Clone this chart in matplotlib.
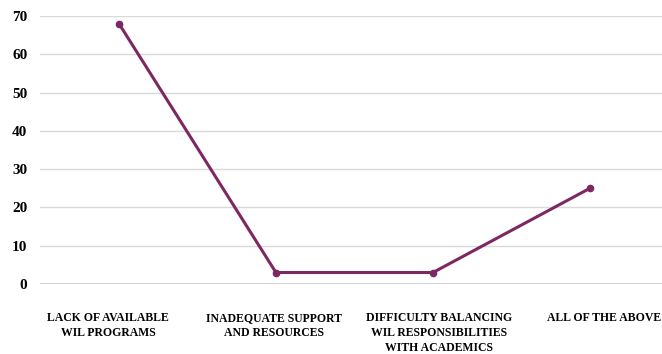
import matplotlib.pyplot as plt
import matplotlib.transforms as mtransforms
from matplotlib import rcParams

rcParams['font.family'] = 'serif'
rcParams['font.serif'] = ['Liberation Serif']
rcParams['font.weight'] = 'bold'

categories = ['LACK OF AVAILABLE\nWIL PROGRAMS',
              'INADEQUATE SUPPORT\nAND RESOURCES',
              'DIFFICULTY BALANCING\nWIL RESPONSIBILITIES\nWITH ACADEMICS',
              'ALL OF THE ABOVE']
values = [68, 3, 3, 25]
yticks = [0, 10, 20, 30, 40, 50, 60, 70]

fig = plt.figure(figsize=(6.62, 3.54), dpi=100)
ax = fig.add_axes([40 / 662, (354 - 284) / 354, 622 / 662, 268 / 354])

x = list(range(len(categories)))
ax.plot(x, values, color='#7d2862', linewidth=2.2, marker='o', markersize=4.5,
        clip_on=False, zorder=3)

ax.set_xlim(-0.503, 3.459)
ax.set_ylim(0, 70)
ax.set_yticks(yticks)
ax.set_yticklabels([str(t) for t in yticks], fontsize=11, fontweight='bold')
ax.set_xticks(x)
ax.set_xticklabels(categories, fontsize=8.5, fontweight='bold', linespacing=1.35,
                   va='top')
ax.tick_params(axis='x', length=0, pad=20)
ax.tick_params(axis='y', length=0, pad=9)

# category labels sit on a slightly wider spacing than the points
shifts = [-11, -2, 6, 14]
for lab, dx in zip(ax.get_xticklabels(), shifts):
    lab.set_transform(lab.get_transform() +
                      mtransforms.ScaledTranslation(dx / 100, 0, fig.dpi_scale_trans))

ax.grid(axis='y', color='#d9d9d9', linewidth=1)
ax.axhline(0, color='#c8c8c8', linewidth=1.2, zorder=1)
for s in ax.spines.values():
    s.set_visible(False)

fig.savefig('out.png', dpi=100)
